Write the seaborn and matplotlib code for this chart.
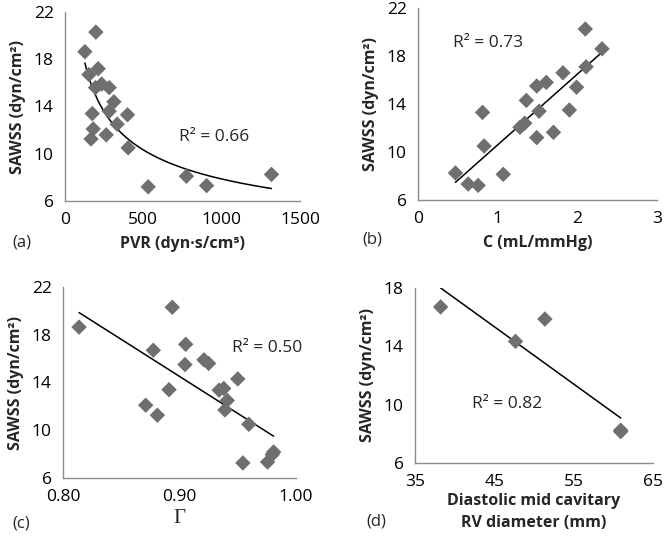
import numpy as np
import pandas as pd
import matplotlib
matplotlib.use("Agg")
import matplotlib.pyplot as plt
import seaborn as sns

# ---------------- data ----------------
pvr = [127, 197, 153, 212, 195, 234, 282, 312, 174, 282, 399, 333, 180, 263, 166, 403, 531, 775, 904, 1318]
sawss_a = [18.64, 20.3, 16.7, 17.2, 15.6, 15.9, 15.6, 14.4, 13.4, 13.6, 13.3, 12.5, 12.1, 11.6, 11.25, 10.5, 7.2, 8.1, 7.3, 8.25]

comp_c = [0.47, 0.63, 0.755, 0.81, 0.83, 1.07, 1.28, 1.34, 1.36, 1.49, 1.49, 1.52, 1.61, 1.70, 1.82, 1.90, 1.99, 2.10, 2.11, 2.31]
sawss_b = [8.25, 7.33, 7.22, 13.3, 10.5, 8.14, 12.06, 12.4, 14.3, 11.2, 15.5, 13.4, 15.8, 11.64, 16.6, 13.5, 15.4, 20.25, 17.1, 18.6]

gamma = [0.8138, 0.8938, 0.8775, 0.9053, 0.9047, 0.921, 0.925, 0.950, 0.891, 0.934, 0.938, 0.941, 0.871, 0.939, 0.881, 0.9595, 0.9544, 0.9756, 0.9808, 0.9796]
sawss_c = [18.64, 20.3, 16.7, 17.2, 15.5, 15.9, 15.6, 14.3, 13.4, 13.36, 13.5, 12.5, 12.1, 11.7, 11.26, 10.5, 7.26, 7.34, 8.18, 7.96]

rvd = [38.23, 47.67, 51.37, 60.93, 60.93]
sawss_d = [16.7, 14.34, 15.87, 8.15, 8.25]

r2_labels = ["R² = 0.66", "R² = 0.73", "R² = 0.50", "R² = 0.82"]
panel_labels = ["(a)", "(b)", "(c)", "(d)"]

# ---------------- style ----------------
sns.set_style("white")
plt.rcParams['font.family'] = ['Open Sans', 'DejaVu Sans']

W, H = 666, 539
fig = plt.figure(figsize=(W / 100, H / 100), dpi=100)

def ax_px(l, t, r, b):
    return fig.add_axes([l / W, 1 - b / H, (r - l) / W, (b - t) / H])

mcol = "#6f6f6f"
gcol = "#8c8c8c"
tick_fs = 12.5
lab_fs = 11.5

def style(ax, xt, yt, xlim, ylim, xfmt=None):
    ax.set_xlim(*xlim)
    ax.set_ylim(*ylim)
    ax.set_xticks(xt)
    ax.set_yticks(yt)
    if xfmt:
        ax.set_xticklabels([xfmt.format(v) for v in xt])
    for s in ["top", "right"]:
        ax.spines[s].set_visible(False)
    for s in ["left", "bottom"]:
        ax.spines[s].set_color(gcol)
        ax.spines[s].set_linewidth(1.0)
    ax.tick_params(axis="both", direction="out", length=5, width=1.0, color=gcol,
                   labelsize=tick_fs, labelcolor="black", pad=3)
    ax.grid(False)

ms = 62

# panel a
axa = ax_px(65, 12, 300, 201)
da = pd.DataFrame({"x": pvr, "y": sawss_a})
b_, a_ = np.polyfit(np.log(da.x), np.log(da.y), 1)
xs = np.linspace(min(pvr), max(pvr), 200)
fit = pd.DataFrame({"x": xs, "y": np.exp(a_) * xs ** b_})
sns.scatterplot(data=da, x="x", y="y", marker="D", s=ms, color=mcol, edgecolor="none", ax=axa, zorder=3)
sns.lineplot(data=fit, x="x", y="y", color="black", lw=1.1, ax=axa, zorder=2)
style(axa, [0, 500, 1000, 1500], [6, 10, 14, 18, 22], (0, 1500), (6, 22))

# panel b
axb = ax_px(418, 8, 657, 200)
db = pd.DataFrame({"x": comp_c, "y": sawss_b})
sns.regplot(data=db, x="x", y="y", scatter=False, ci=None, truncate=True,
            line_kws={"color": "black", "lw": 1.1}, ax=axb)
sns.scatterplot(data=db, x="x", y="y", marker="D", s=ms, color=mcol, edgecolor="none", ax=axb, zorder=3)
style(axb, [0, 1, 2, 3], [6, 10, 14, 18, 22], (0, 3), (6, 22))

# panel c
axc = ax_px(63, 287, 296, 478)
dc = pd.DataFrame({"x": gamma, "y": sawss_c})
sns.regplot(data=dc, x="x", y="y", scatter=False, ci=None, truncate=True,
            line_kws={"color": "black", "lw": 1.1}, ax=axc)
sns.scatterplot(data=dc, x="x", y="y", marker="D", s=ms, color=mcol, edgecolor="none", ax=axc, zorder=3)
style(axc, [0.80, 0.90, 1.00], [6, 10, 14, 18, 22], (0.80, 1.00), (6, 22), xfmt="{:.2f}")

# panel d
axd = ax_px(415, 288, 653, 463)
dd = pd.DataFrame({"x": rvd, "y": sawss_d})
sns.regplot(data=dd, x="x", y="y", scatter=False, ci=None, truncate=True,
            line_kws={"color": "black", "lw": 1.1}, ax=axd)
sns.scatterplot(data=dd, x="x", y="y", marker="D", s=ms, color=mcol, edgecolor="none", ax=axd, zorder=3)
style(axd, [35, 45, 55, 65], [6, 10, 14, 18], (35, 65), (6, 18))

ylab = "SAWSS (dyn/cm²)"
for ax in [axa, axb, axc, axd]:
    ax.set_ylabel(ylab, fontsize=lab_fs, fontweight="bold", labelpad=6)

axa.set_xlabel("PVR (dyn·s/cm⁵)", fontsize=lab_fs, fontweight="bold", labelpad=6)
axb.set_xlabel("C (mL/mmHg)", fontsize=lab_fs, fontweight="bold", labelpad=6)
axc.set_xlabel("Γ", fontsize=15, family=["Liberation Serif", "DejaVu Serif"], labelpad=3)
axd.set_xlabel("Diastolic mid cavitary\nRV diameter (mm)", fontsize=lab_fs, fontweight="bold",
               labelpad=2, linespacing=1.55)

# R² annotations (pixel positions)
def fig_text(x, y, s, **kw):
    fig.text(x / W, 1 - y / H, s, **kw)

fig_text(179, 137, r2_labels[0], fontsize=12.5, va="center", ha="left")
fig_text(453, 43, r2_labels[1], fontsize=12.5, va="center", ha="left")
fig_text(232, 348, r2_labels[2], fontsize=12.5, va="center", ha="left")
fig_text(472, 404, r2_labels[3], fontsize=12.5, va="center", ha="left")

fig_text(12, 242, panel_labels[0], fontsize=12, va="center", ha="left")
fig_text(362, 240, panel_labels[1], fontsize=12, va="center", ha="left")
fig_text(12, 523, panel_labels[2], fontsize=12, va="center", ha="left")
fig_text(366, 522, panel_labels[3], fontsize=12, va="center", ha="left")

fig.savefig("out.png", dpi=100, facecolor="white")
